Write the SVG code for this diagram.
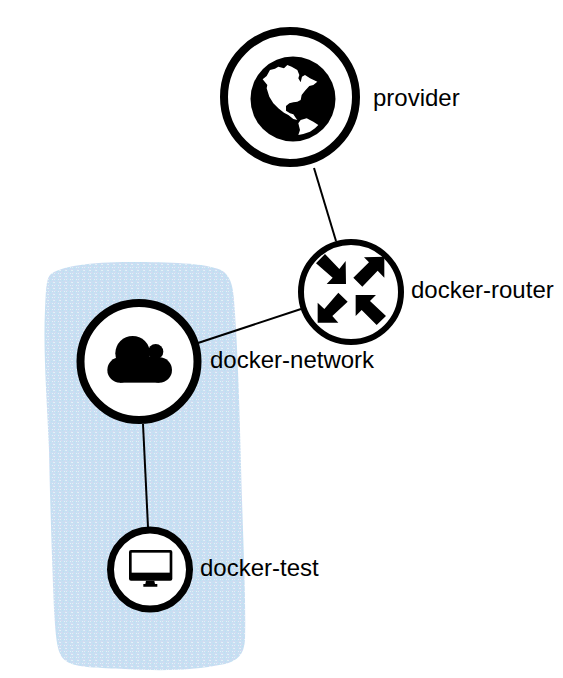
<svg xmlns="http://www.w3.org/2000/svg" width="563" height="678" viewBox="0 0 563 678">
<style>
.ring{fill:#fff;stroke:#000}
.lbl{font-family:"Liberation Sans",Arial,sans-serif;font-size:24px;fill:#000}
#connectors line{stroke:#000;stroke-width:2}
</style>
<defs>
<pattern id="dither" width="6" height="6" patternUnits="userSpaceOnUse" shape-rendering="crispEdges">
<rect width="6" height="6" fill="#c8def2"/>
<rect x="0" y="0" width="1" height="1" fill="#e6f0fa"/>
<rect x="3" y="1" width="1" height="1" fill="#b9e2f2"/>
<rect x="1" y="2" width="1" height="1" fill="#dcd6f0"/>
<rect x="4" y="3" width="1" height="1" fill="#e6f0fa"/>
<rect x="2" y="4" width="1" height="1" fill="#b9e2f2"/>
<rect x="5" y="5" width="1" height="1" fill="#dcd6f0"/>
<rect x="5" y="0" width="1" height="1" fill="#dff2f4"/>
<rect x="0" y="3" width="1" height="1" fill="#dff2f4"/>
</pattern>
</defs>
<rect width="563" height="678" fill="#fff"/>
<path id="zone" d="M50 275C60 266 90 262 130 262C170 262 205 263 221 270C230 275 233 285 234 300C238 350 240 420 242 500C244 560 246 610 245 640C244 655 237 661 225 664C190 671 160 671 125 669C100 668 75 668 66 661C57 655 56 640 54 610C52 560 50 500 49 450C47 400 43 350 45 310C46 290 46 280 50 275Z" fill="url(#dither)"/>
<g id="connectors">
<line x1="314" y1="168" x2="336" y2="241"/>
<line x1="301" y1="309" x2="198" y2="343"/>
<line x1="143" y1="424" x2="148" y2="527"/>
</g>
<g id="provider">
<circle class="ring" cx="290" cy="97" r="66" stroke-width="8"/>
<circle cx="293" cy="99" r="42.5"/>
<g transform="translate(210 20) scale(.3333)" fill="#fff">
<path d="M158 178L170 168L180 150L195 146L205 140L222 145L232 135L245 140L262 150L268 165L265 175L272 187L276 170L285 165L300 175L322 185L310 195L298 198L285 212L275 225L272 240L262 245L250 247L238 250L228 258L228 272L240 280L250 283L258 295L262 300L250 297L235 285L222 278L205 265L190 250L178 230L170 205L172 195Z"/>
<path d="M265 310L272 300L290 295L310 305L325 315L315 325L300 335L280 342L265 345L270 330Z"/>
</g>
<text class="lbl" x="373" y="106">provider</text>
</g>
<g id="docker-router">
<circle class="ring" cx="351" cy="292" r="50" stroke-width="6"/>
<g transform="translate(290 230) scale(.3333)">
<path d="M78 100L105 72L148 117L167 93L168 162L110 162L128 143Z"/>
<path d="M190 143L237 97L222 82L283 80L283 143L263 122L217 170Z"/>
<path d="M145 188L173 215L127 258L145 278L83 278L83 218L103 237Z"/>
<path d="M197 195L258 195L240 213L288 258L260 285L215 240L197 258Z"/>
</g>
<text class="lbl" x="411" y="298">docker-router</text>
</g>
<g id="docker-network">
<circle class="ring" cx="139" cy="361.5" r="58.500" stroke-width="8"/>
<g transform="translate(70 290) scale(.3333)">
<circle cx="188" cy="190" r="52"/>
<circle cx="257" cy="185" r="23"/>
<circle cx="150" cy="240" r="38"/>
<circle cx="268" cy="240" r="38"/>
<rect x="150" y="200" width="118" height="78"/>
</g>
<text class="lbl" x="210" y="368">docker-network</text>
</g>
<g id="docker-test">
<circle class="ring" cx="150" cy="569.5" r="39.500" stroke-width="7"/>
<g transform="translate(100 520) scale(.3333)">
<rect x="87" y="90" width="130" height="92" rx="6"/>
<rect x="95" y="98" width="114" height="60" fill="#fff"/>
<path d="M138 182H163L165 192H172V200H130V192H136Z"/>
</g>
<text class="lbl" x="200" y="576">docker-test</text>
</g>
</svg>
